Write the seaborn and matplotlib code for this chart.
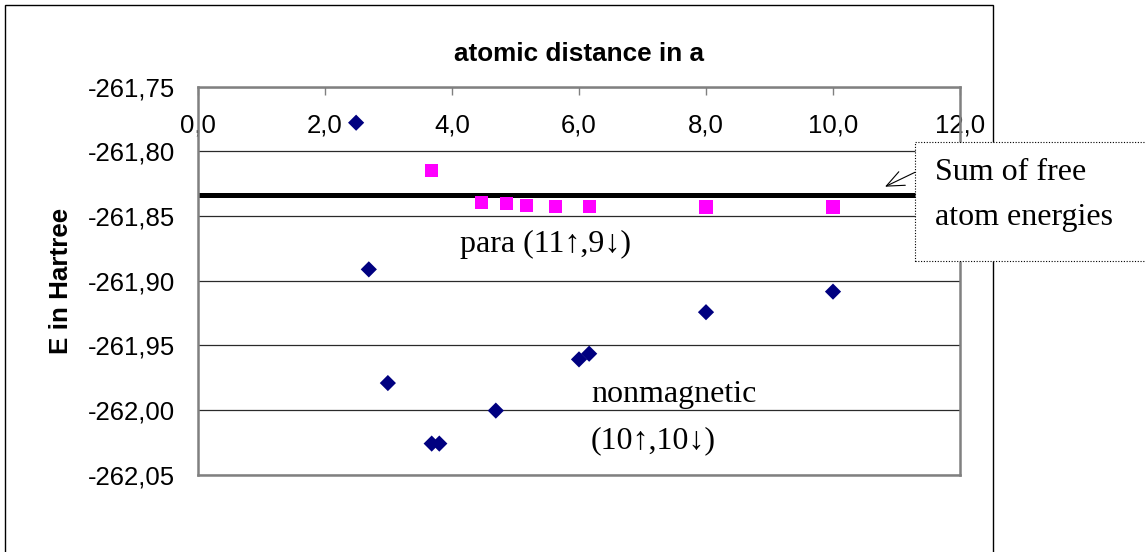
import matplotlib
matplotlib.use("Agg")
import matplotlib.pyplot as plt
import seaborn as sns
import pandas as pd
from matplotlib.patches import Rectangle

# ---------------- data ----------------
dist_nonmag = [2.49, 2.69, 2.99, 3.68, 3.80, 4.69, 6.00, 6.16, 8.00, 10.00]
e_nonmag = [-261.778, -261.8914, -261.9793, -262.0261, -262.0261, -262.0006,
            -261.9610, -261.9566, -261.9245, -261.9086]

dist_para = [3.68, 4.47, 4.86, 5.17, 5.63, 6.16, 8.00, 10.00]
e_para = [-261.8152, -261.8397, -261.8407, -261.8420, -261.8427, -261.8430,
          -261.8432, -261.8432]

sum_free_atoms = -261.8337

x_ticks = [0, 2, 4, 6, 8, 10, 12]
x_tick_labels = ["0,0", "2,0", "4,0", "6,0", "8,0", "10,0", "12,0"]
y_ticks = [-262.05, -262.00, -261.95, -261.90, -261.85, -261.80, -261.75]
y_tick_labels = ["-262,05", "-262,00", "-261,95", "-261,90", "-261,85", "-261,80", "-261,75"]

title_text = "atomic distance in a"
ylabel_text = "E in Hartree"
para_label = "para (11↑,9↓)"
nonmag_label_1 = "nonmagnetic"
nonmag_label_2 = "(10↑,10↓)"

# ---------------- style ----------------
sns.set_style("white")
plt.rcParams["font.family"] = ["Liberation Sans", "DejaVu Sans"]
plt.rcParams["text.color"] = "black"
plt.rcParams["axes.labelcolor"] = "black"
plt.rcParams["xtick.color"] = "black"
plt.rcParams["ytick.color"] = "black"
SERIF = ["Liberation Serif", "DejaVu Serif"]

W, H = 1145, 552
fig = plt.figure(figsize=(W / 100, H / 100), dpi=100)
fig.patch.set_facecolor("white")


def fp(x, y):
    """pixel (from top-left) -> figure fraction"""
    return (x / W, 1 - y / H)


ax_l, ax_r, ax_t, ax_b = 198, 960, 86.5, 474.5
ax = fig.add_axes([ax_l / W, 1 - ax_b / H, (ax_r - ax_l) / W, (ax_b - ax_t) / H])

df_nonmag = pd.DataFrame({"dist": dist_nonmag, "E": e_nonmag})
df_para = pd.DataFrame({"dist": dist_para, "E": e_para})

ax.axhline(sum_free_atoms, color="black", lw=3.6, zorder=2)
sns.scatterplot(data=df_nonmag, x="dist", y="E", marker="D", s=68,
                color="#000080", edgecolor="none", linewidth=0, ax=ax, zorder=3)
sns.scatterplot(data=df_para, x="dist", y="E", marker="s", s=90,
                color="#FF00FF", edgecolor="none", linewidth=0, ax=ax, zorder=3)

ax.set_xlim(0, 12)
ax.set_ylim(-262.05, -261.75)
ax.set_xticks(x_ticks)
ax.set_xticklabels(x_tick_labels)
ax.set_yticks(y_ticks)
ax.set_yticklabels(y_tick_labels)
ax.set_xlabel("")
ax.set_ylabel("")

ax.xaxis.set_ticks_position("top")
ax.tick_params(axis="x", direction="in", length=6, width=1, color="#808080",
               pad=-36.8, labelsize=18.5, labelcolor="black")
ax.tick_params(axis="y", length=0, pad=16.6, labelsize=18.5, labelcolor="black")

ax.grid(False)
ax.yaxis.grid(True, color="#2a2a2a", lw=0.9)
ax.set_axisbelow(True)

for sp in ax.spines.values():
    sp.set_visible(True)
    sp.set_color("#808080")
    sp.set_linewidth(1.8)

ax.set_title(title_text, fontsize=18.8, fontweight="bold", y=1.0, pad=18.4,
             color="black")
ax.set_ylabel(ylabel_text, fontsize=18.7, fontweight="bold", color="black")
ax.yaxis.set_label_coords((73 - ax_l) / (ax_r - ax_l), 0.5)

# annotations
fig.text(*fp(460, 252), para_label, family=SERIF, fontsize=23,
         ha="left", va="baseline", zorder=6, color="black")
fig.text(*fp(591, 402), nonmag_label_1, family=SERIF, fontsize=23,
         ha="left", va="baseline", zorder=6, color="black")
fig.text(*fp(591, 448), nonmag_label_2, family=SERIF, fontsize=23,
         ha="left", va="baseline", zorder=6, color="black")

# outer chart frame
x0, y0 = fp(5, 5)
frame = Rectangle((x0, -0.2), (993 - 5) / W, y0 + 0.2, transform=fig.transFigure,
                  facecolor="none", edgecolor="black", lw=1.0, zorder=1)
fig.add_artist(frame)

# callout box
bx0, by0 = fp(915, 260.7)
box = Rectangle((bx0, by0), (1170 - 915) / W, (260.7 - 141.7) / H,
                transform=fig.transFigure, facecolor="white", edgecolor="black",
                lw=0.8, ls=(0, (1, 1.5)), zorder=5)
fig.add_artist(box)
fig.text(*fp(935, 180), "Sum of free", family=SERIF, fontsize=23,
         ha="left", va="baseline", zorder=6, color="black")
fig.text(*fp(935, 225), "atom energies", family=SERIF, fontsize=23,
         ha="left", va="baseline", zorder=6, color="black")

ax.annotate("", xy=fp(885, 186.7), xycoords="figure fraction",
            xytext=fp(915, 172.3), textcoords="figure fraction",
            arrowprops=dict(arrowstyle="->,head_length=0.7,head_width=0.3",
                            lw=0.8, color="black", shrinkA=0, shrinkB=0,
                            mutation_scale=18),
            annotation_clip=False)

fig.savefig("out.png", dpi=100)
